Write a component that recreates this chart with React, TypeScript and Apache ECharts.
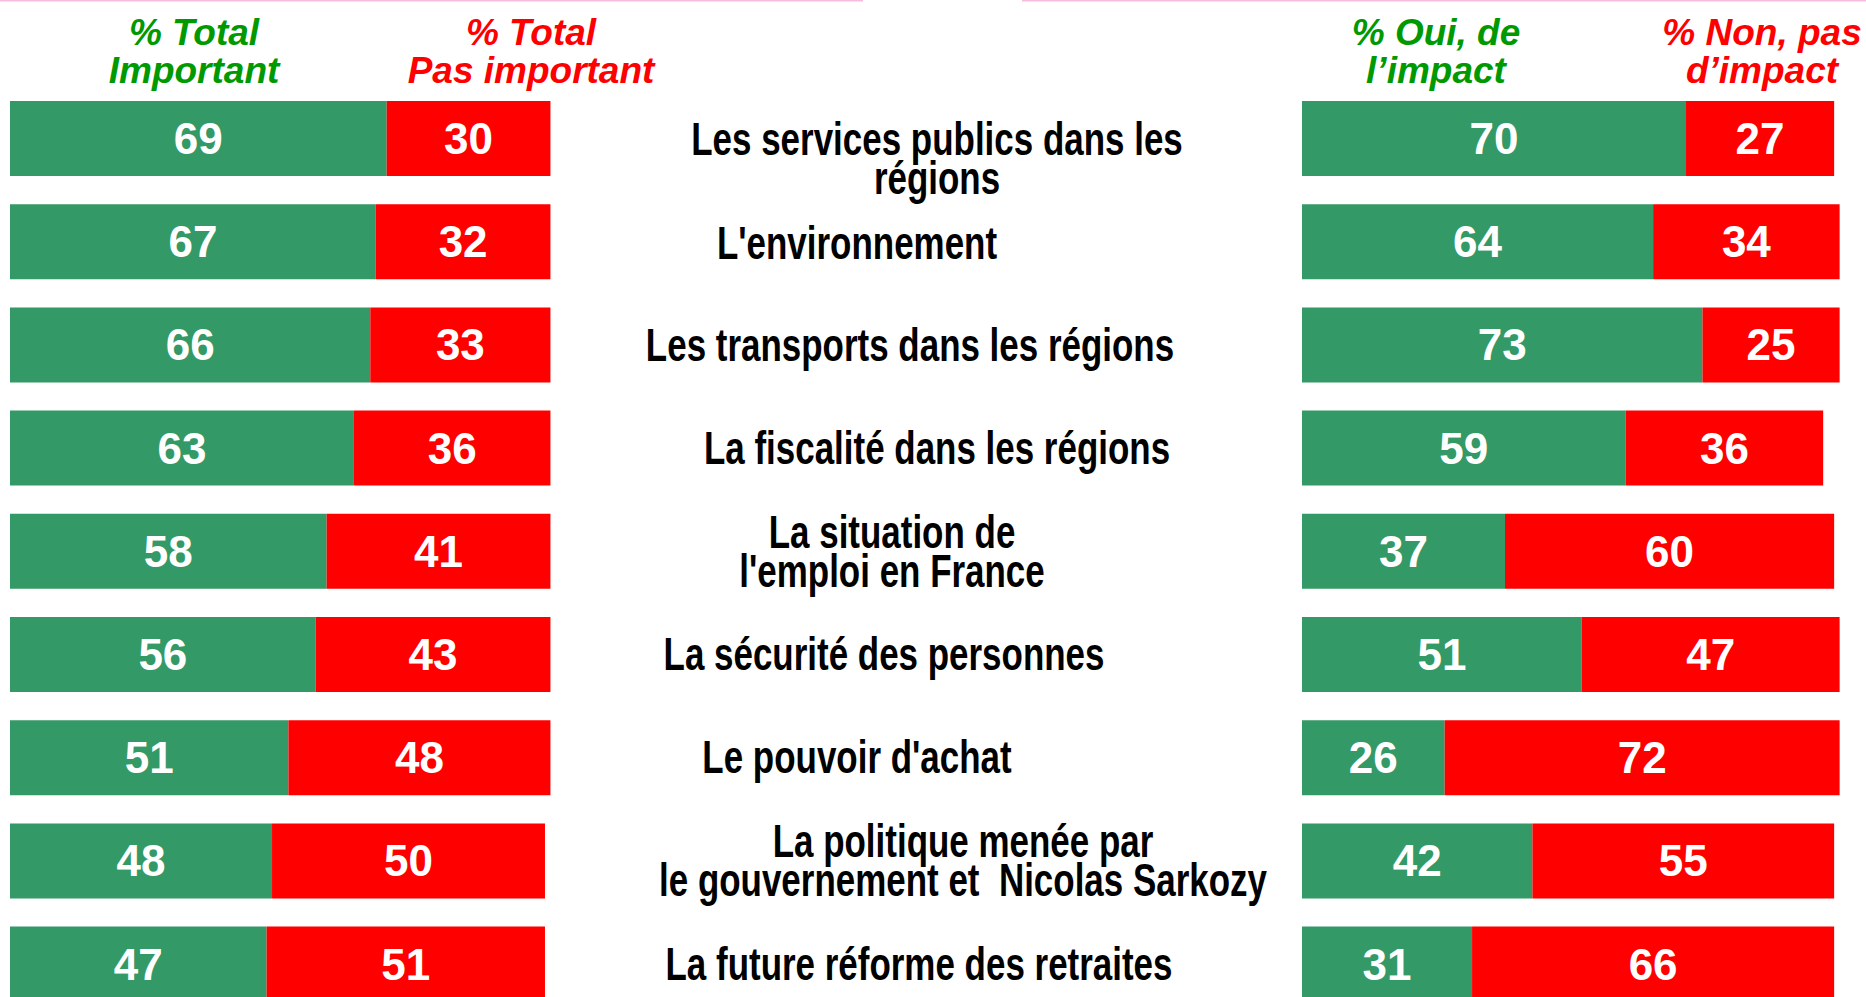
import React, { useEffect, useRef } from "react";
import * as echarts from "echarts";

const categories = [
  "Les services publics dans les\nrégions",
  "L'environnement",
  "Les transports dans les régions",
  "La fiscalité dans les régions",
  "La situation de\nl'emploi en France",
  "La sécurité des personnes",
  "Le pouvoir d'achat",
  "La politique menée par\nle gouvernement et  Nicolas Sarkozy",
  "La future réforme des retraites",
];
const importantValues = [69, 67, 66, 63, 58, 56, 51, 48, 47];
const notImportantValues = [30, 32, 33, 36, 41, 43, 48, 50, 51];
const impactYesValues = [70, 64, 73, 59, 37, 51, 26, 42, 31];
const impactNoValues = [27, 34, 25, 36, 60, 47, 72, 55, 66];

const headerTexts = [
  "% Total\nImportant",
  "% Total\nPas important",
  "% Oui, de\nl\u2019impact",
  "% Non, pas\nd\u2019impact",
];

// layout (pixel positions of the free text boxes)
const labelCenterX = [937, 857, 910, 937, 892, 884, 857, 963, 919];
const labelOffsetY = [20, 2, 0, 0, 0, 0, 0, 0, 0];
const headerCenterX = [194, 531, 1436, 1762];

const GREEN = "#339966";
const RED = "#FF0000";
const FONT = "'Liberation Sans', Arial, Helvetica, sans-serif";

export default function App() {
  const ref = useRef<HTMLDivElement>(null);

  useEffect(() => {
    if (!ref.current) return;
    const chart = echarts.init(ref.current, undefined, { renderer: "svg" });
    const gridTop = 86.9;
    const gridHeight = 928.8;
    const barLabel = {
      show: true,
      position: "inside",
      color: "#ffffff",
      fontSize: 44,
      fontWeight: "bold",
      fontFamily: FONT,
    };
    const mk = (name: string, data: number[], color: string, idx: number) => ({
      type: "bar",
      name,
      data,
      stack: "s" + idx,
      xAxisIndex: idx,
      yAxisIndex: idx,
      barWidth: 75,
      itemStyle: { color },
      label: barLabel,
      silent: true,
    });
    chart.setOption({
      animation: false,
      backgroundColor: "#ffffff",
      grid: [
        { left: 10, top: gridTop, width: 545.9, height: gridHeight },
        { left: 1302, top: gridTop, width: 548.6, height: gridHeight },
      ],
      xAxis: [0, 1].map((i) => ({
        type: "value",
        gridIndex: i,
        min: 0,
        max: 100,
        show: false,
      })),
      yAxis: [0, 1].map((i) => ({
        type: "category",
        gridIndex: i,
        data: categories,
        inverse: true,
        show: false,
      })),
      series: [
        mk("% Total Important", importantValues, GREEN, 0),
        mk("% Total Pas important", notImportantValues, RED, 0),
        mk("% Oui, de l'impact", impactYesValues, GREEN, 1),
        mk("% Non, pas d'impact", impactNoValues, RED, 1),
      ],
    });

    const graphics: any[] = [
      {
        type: "line",
        shape: { x1: 0, y1: 0.75, x2: 863, y2: 0.75 },
        style: { stroke: "#F8BCDF", lineWidth: 1.5 },
      },
      {
        type: "line",
        shape: { x1: 1022, y1: 0.75, x2: 1866, y2: 0.75 },
        style: { stroke: "#F8BCDF", lineWidth: 1.5 },
      },
    ];
    headerTexts.forEach((t, i) => {
      graphics.push({
        type: "text",
        x: headerCenterX[i],
        y: 51,
        style: {
          text: t,
          fill: i % 2 === 0 ? "#009900" : "#FF0000",
          fontSize: 37,
          fontWeight: "bold",
          fontStyle: "italic",
          fontFamily: FONT,
          align: "center",
          verticalAlign: "middle",
          lineHeight: 38,
        },
      });
    });
    categories.forEach((c, i) => {
      const y = chart.convertToPixel({ yAxisIndex: 0 }, c) as number;
      graphics.push({
        type: "text",
        x: labelCenterX[i],
        y: y + labelOffsetY[i],
        scaleX: 0.76,
        style: {
          text: c,
          fill: "#000000",
          fontSize: 46,
          fontWeight: "bold",
          fontFamily: FONT,
          align: "center",
          verticalAlign: "middle",
          lineHeight: 39,
        },
      });
    });
    chart.setOption({ graphic: graphics });

    return () => chart.dispose();
  }, []);

  return (
    <div
      style={{
        position: "fixed",
        left: 0,
        top: 0,
        width: 1866,
        height: 997,
        overflow: "hidden",
        background: "#ffffff",
      }}
    >
      <div ref={ref} style={{ width: 1866, height: 1030 }} />
    </div>
  );
}
